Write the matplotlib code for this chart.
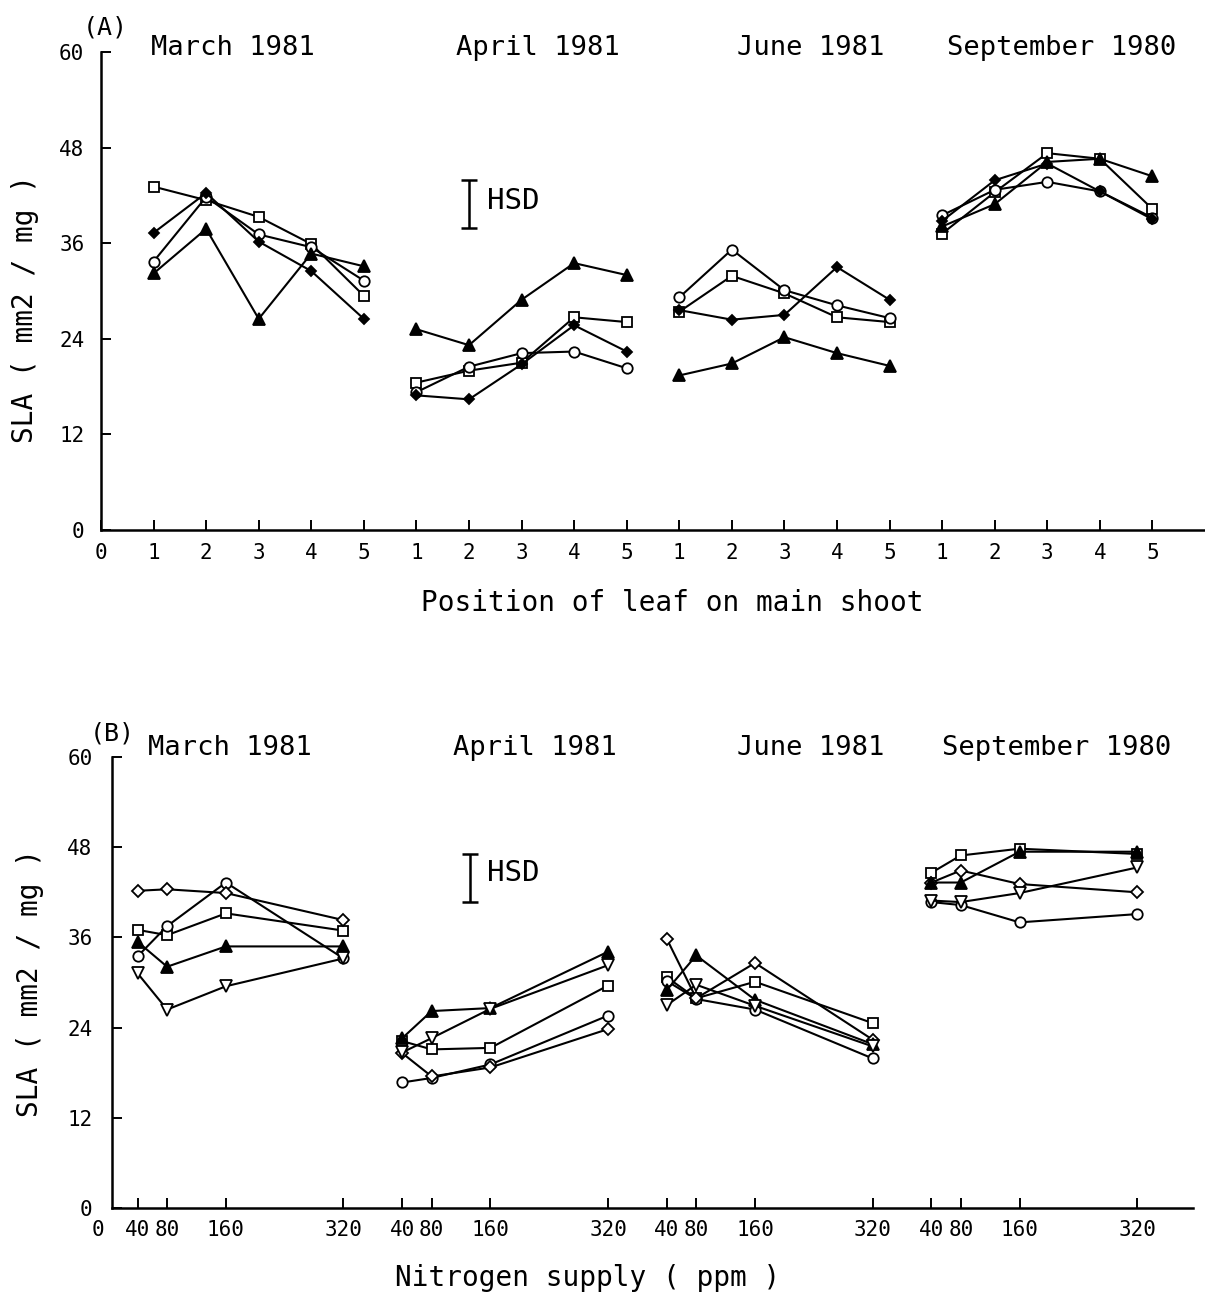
import matplotlib
matplotlib.use("Agg")
import matplotlib.pyplot as plt
import matplotlib.transforms as mtransforms

plt.rcParams['font.family'] = ['DejaVu Sans Mono', 'DejaVu Sans']

# ---------------- data ----------------
months_A = ["March 1981", "April 1981", "June 1981", "September 1980"]
months_B = ["March 1981", "April 1981", "June 1981", "September 1980"]
leaf_positions = [1, 2, 3, 4, 5]
nitrogen_ppm = [40, 80, 160, 320]

# Panel A: SLA by leaf position (4 sowing months x 5 leaves)
a_square = [43.1, 41.4, 39.3, 35.9, 29.4,
            18.5, 20.0, 21.0, 26.7, 26.1,
            27.4, 31.9, 29.7, 26.7, 26.1,
            37.2, 42.4, 47.3, 46.6, 40.3]
a_circle = [33.7, 41.8, 37.1, 35.5, 31.3,
            17.3, 20.5, 22.2, 22.4, 20.3,
            29.2, 35.2, 30.1, 28.2, 26.6,
            39.5, 42.7, 43.7, 42.5, 39.2]
a_diamond = [37.3, 42.3, 36.2, 32.5, 26.5,
             16.9, 16.4, 20.8, 25.7, 22.4,
             27.6, 26.4, 27.0, 33.0, 28.9,
             38.8, 43.9, 46.0, 42.5, 39.0]
a_triangle = [32.2, 37.8, 26.5, 34.7, 33.1,
              25.2, 23.2, 28.9, 33.5, 32.0,
              19.4, 20.9, 24.2, 22.2, 20.6,
              38.1, 40.9, 46.2, 46.6, 44.4]

# Panel B: SLA by nitrogen supply (4 sowing months x 4 N levels)
b_diamond = [42.2, 42.4, 41.9, 38.3,
             20.6, 17.5, 18.7, 23.8,
             35.8, 27.9, 32.6, 22.4,
             43.3, 44.9, 43.1, 42.0]
b_circle = [33.5, 37.5, 43.3, 33.2,
            16.7, 17.3, 19.1, 25.6,
            30.2, 27.8, 26.4, 19.9,
            40.7, 40.3, 38.0, 39.1]
b_square = [37.0, 36.3, 39.2, 36.9,
            22.2, 21.1, 21.3, 29.6,
            30.7, 27.9, 30.1, 24.6,
            44.6, 46.9, 47.8, 47.1]
b_triangle = [35.4, 32.1, 34.8, 34.8,
              22.6, 26.2, 26.6, 34.1,
              29.0, 33.6, 27.7, 21.8,
              43.3, 43.3, 47.4, 47.4]
b_invtri = [31.2, 26.4, 29.5, 33.2,
            20.7, 22.6, 26.5, 32.3,
            27.0, 29.7, 26.9, 21.5,
            40.9, 40.7, 41.9, 45.3]

hsd_A = 6.0
hsd_B = 6.4
y_ticks = [0, 12, 24, 36, 48, 60]

# ---------------- layout ----------------
W, H = 1205, 1295
fig = plt.figure(figsize=(W / 100, H / 100), dpi=100)


def fx(px):
    return px / W


def fy(py):
    return 1 - py / H


styles = {
    'square': dict(marker='s', mfc='white', ms=7.5),
    'circle': dict(marker='o', mfc='white', ms=7.5),
    'diamond': dict(marker='D', mfc='black', ms=5.5),
    'triangle': dict(marker='^', mfc='black', ms=8),
    'invtri': dict(marker='v', mfc='white', ms=8),
}
styles_B = dict(styles)
styles_B['diamond'] = dict(marker='D', mfc='white', ms=6)

line_kw = dict(color='black', lw=1.5, mec='black', mew=1.3)


def style_axes(ax, pad):
    for s in ['top', 'right']:
        ax.spines[s].set_visible(False)
    for s in ['left', 'bottom']:
        ax.spines[s].set_linewidth(1.8)
    ax.tick_params(axis='both', direction='in', length=7, width=1.4,
                   labelsize=15)
    ax.tick_params(axis='y', pad=pad)
    ax.tick_params(axis='x', pad=9)
    ax.set_yticks(y_ticks)
    ax.set_yticklabels([str(v) for v in y_ticks])
    ax.set_ylim(0, 60)


# ---------- Panel A ----------
axA = fig.add_axes([fx(101), fy(530), fx(1205) - fx(101), fy(52) - fy(530)])
style_axes(axA, 12)
axA.set_xlim(0, 21)
n_leaf = len(leaf_positions)
xt = [0]
xl = ['0']
for g in range(len(months_A)):
    for i, p in enumerate(leaf_positions):
        xt.append(g * n_leaf + p)
        xl.append(str(p))
axA.set_xticks(xt)
axA.set_xticklabels(xl)

seriesA = [('square', a_square), ('circle', a_circle),
           ('diamond', a_diamond), ('triangle', a_triangle)]
for g in range(len(months_A)):
    xs = [g * n_leaf + p for p in leaf_positions]
    for name, vals in seriesA:
        axA.plot(xs, vals[g * n_leaf:(g + 1) * n_leaf], **styles[name], **line_kw)

axA.errorbar([7.0], [40.9], yerr=[hsd_A / 2], fmt='none', ecolor='black',
             elinewidth=1.8, capsize=6, capthick=1.8)
fig.text(fx(487), fy(201), "HSD", fontsize=21, va='center', ha='left')

fig.text(fx(105), fy(27), "(A)", fontsize=18, ha='center', va='center')
for name, cx in zip(months_A, [233, 538, 811, 1062]):
    fig.text(fx(cx), fy(48), name, fontsize=19.5, ha='center', va='center')
fig.text(fx(672), fy(603), "Position of leaf on main shoot", fontsize=20,
         ha='center', va='center')
fig.text(fx(25), fy(309), "SLA ( mm2 / mg )", fontsize=20, rotation=90,
         ha='center', va='center')

# ---------- Panel B ----------
group_span = 360
axB = fig.add_axes([fx(112), fy(1208), fx(1193) - fx(112), fy(757) - fy(1208)])
style_axes(axB, 14)
axB.set_xlim(5, 1476)
xt = []
xl = []
for g in range(len(months_B)):
    for n in nitrogen_ppm:
        xt.append(g * group_span + n)
        xl.append(str(n))
axB.set_xticks(xt)
axB.set_xticklabels(xl)
trans = mtransforms.blended_transform_factory(axB.transData, axB.transAxes)
axB.text(-14, -0.027, "0", transform=trans, fontsize=15, ha='center', va='top')

n_n = len(nitrogen_ppm)
seriesB = [('square', b_square), ('circle', b_circle), ('diamond', b_diamond),
           ('triangle', b_triangle), ('invtri', b_invtri)]
for g in range(len(months_B)):
    xs = [g * group_span + n for n in nitrogen_ppm]
    for name, vals in seriesB:
        axB.plot(xs, vals[g * n_n:(g + 1) * n_n], **styles_B[name], **line_kw)

axB.errorbar([492], [43.9], yerr=[hsd_B / 2], fmt='none', ecolor='black',
             elinewidth=1.8, capsize=6, capthick=1.8)
fig.text(fx(487), fy(873), "HSD", fontsize=21, va='center', ha='left')

fig.text(fx(112), fy(734), "(B)", fontsize=18, ha='center', va='center')
for name, cx in zip(months_B, [230, 535, 811, 1057]):
    fig.text(fx(cx), fy(748), name, fontsize=19.5, ha='center', va='center')
fig.text(fx(588), fy(1278), "Nitrogen supply ( ppm )", fontsize=20,
         ha='center', va='center')
fig.text(fx(30), fy(983), "SLA ( mm2 / mg )", fontsize=20, rotation=90,
         ha='center', va='center')

fig.savefig("out.png", dpi=100, facecolor='white')
